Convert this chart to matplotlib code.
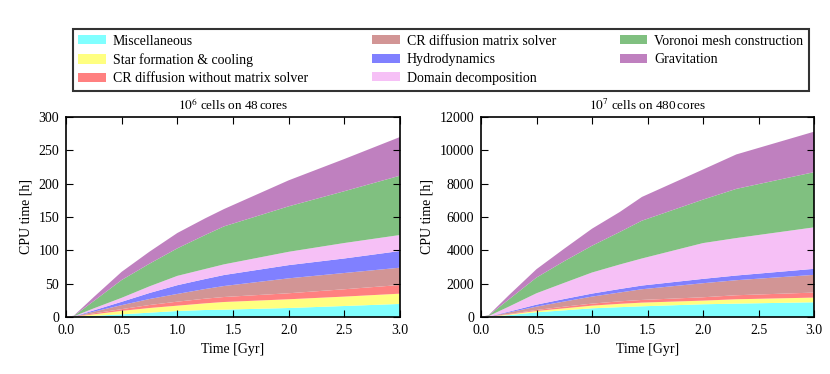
import matplotlib
matplotlib.use("Agg")
import matplotlib.pyplot as plt
from matplotlib.patches import Patch

plt.rcParams['font.family'] = ['Liberation Serif', 'DejaVu Serif']
plt.rcParams['mathtext.fontset'] = 'stix'
plt.rcParams['font.size'] = 9

labels = ["Miscellaneous", "Star formation & cooling", "CR diffusion without matrix solver",
          "CR diffusion matrix solver", "Hydrodynamics", "Domain decomposition",
          "Voronoi mesh construction", "Gravitation"]
colors = ["#80ffff", "#ffff80", "#ff8080", "#d29595", "#8080ff", "#f6c0f6", "#80c080", "#bf80bf"]

# Left panel: 10^6 cells on 48 cores (CPU hours per component)
t_left = [0, 0.07, 0.25, 0.5, 0.75, 1.0, 1.25, 1.42, 2.0, 2.5, 3.0]
misc_l = [0, 0.2, 1.8, 4.0, 6.5, 9.0, 10.5, 11.0, 13.5, 16.5, 19.6]
star_l = [0, 0.2, 2.2, 5.2, 7.0, 8.0, 10.0, 11.5, 13.1, 14.1, 15.4]
crno_l = [0, 0.1, 1.5, 2.6, 4.5, 6.0, 7.0, 7.5, 9.0, 11.0, 13.0]
crm_l = [0, 0.2, 2.5, 6.0, 9.0, 11.6, 14.5, 16.5, 22.4, 24.4, 26.0]
hydro_l = [0, 0.1, 2.0, 5.0, 9.0, 13.1, 15.0, 16.5, 19.8, 21.8, 25.0]
dom_l = [0, 0.2, 3.0, 6.0, 10.0, 14.0, 15.0, 16.0, 20.0, 23.2, 24.0]
vor_l = [0, 0.5, 11.0, 26.7, 34.0, 41.3, 51.0, 57.0, 68.2, 77.7, 89.0]
grav_l = [0, 0.5, 6.0, 12.3, 18.0, 23.0, 25.0, 26.0, 39.0, 48.3, 58.0]

# Right panel: 10^7 cells on 480 cores
t_right = [0, 0.07, 0.25, 0.5, 0.75, 1.0, 1.25, 1.45, 2.0, 2.3, 3.0]
misc_r = [0, 10, 110, 281, 400, 522, 590, 642, 763, 803, 883]
star_r = [0, 5, 40, 80, 120, 160, 200, 221, 220, 261, 281]
crno_r = [0, 3, 30, 60, 100, 121, 150, 160, 201, 241, 301]
crm_r = [0, 7, 90, 201, 310, 421, 530, 643, 843, 903, 1064]
hydro_r = [0, 5, 50, 120, 150, 181, 210, 221, 261, 281, 361]
dom_r = [0, 30, 300, 683, 970, 1264, 1470, 1625, 2147, 2248, 2489]
vor_r = [0, 40, 430, 943, 1300, 1606, 1950, 2268, 2609, 2950, 3311]
grav_r = [0, 20, 250, 502, 750, 1023, 1200, 1425, 1806, 2067, 2428]

fig = plt.figure(figsize=(8.3, 3.74), dpi=100)
W, H = 830, 374
axL = fig.add_axes([66 / W, 1 - 317 / H, (400 - 66) / W, 200 / H])
axR = fig.add_axes([481 / W, 1 - 317 / H, (814 - 481) / W, 200 / H])

def panel(ax, t, series, ymax, yticks, title):
    ax.stackplot(t, *series, colors=colors, linewidth=0)
    ax.set_xlim(0, 3)
    ax.set_ylim(0, ymax)
    ax.set_xticks([0, 0.5, 1.0, 1.5, 2.0, 2.5, 3.0])
    ax.set_xticklabels(["0.0", "0.5", "1.0", "1.5", "2.0", "2.5", "3.0"])
    ax.set_yticks(yticks)
    ax.tick_params(direction='in', top=True, right=True, length=5, width=0.8, labelsize=10, pad=5)
    for s in ax.spines.values():
        s.set_linewidth(1.2)
    ax.set_xlabel("Time [Gyr]", fontsize=10)
    ax.set_ylabel("CPU time [h]", fontsize=10)
    ax.set_title(title, fontsize=9.5, pad=5)

panel(axL, t_left, [misc_l, star_l, crno_l, crm_l, hydro_l, dom_l, vor_l, grav_l],
      300, [0, 50, 100, 150, 200, 250, 300], "$10^6$ cells on 48$\\,$cores")
panel(axR, t_right, [misc_r, star_r, crno_r, crm_r, hydro_r, dom_r, vor_r, grav_r],
      12000, [0, 2000, 4000, 6000, 8000, 10000, 12000], "$10^7$ cells on 480$\\,$cores")

handles = [Patch(facecolor=c, edgecolor='none') for c in colors]
leg = fig.legend(handles, labels, ncol=3, loc='upper left',
                 bbox_to_anchor=(72.5 / W, 1 - 29 / H), borderaxespad=0, fontsize=10,
                 fancybox=False, frameon=True, handlelength=2.0, handleheight=0.65,
                 columnspacing=4.6, handletextpad=0.5, labelspacing=0.4,
                 borderpad=0.4)
leg.get_frame().set_edgecolor('black')
leg.get_frame().set_linewidth(1.5)

fig.savefig("out.png", dpi=100)
